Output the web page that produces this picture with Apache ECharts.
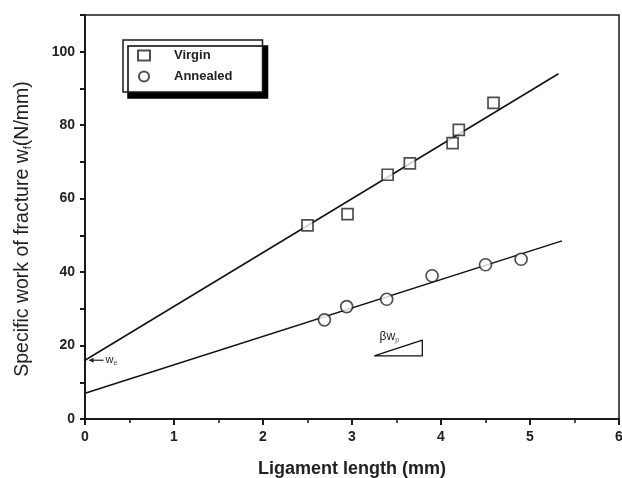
<!DOCTYPE html>
<html>
<head>
<meta charset="utf-8">
<script src="https://cdn.jsdelivr.net/npm/echarts@6/dist/echarts.min.js"></script>
<style>
html,body{margin:0;padding:0;background:#fff;}
#c{width:622px;height:478px;}
</style>
</head>
<body>
<div id="c"></div>
<script>
// ---- data ----
const virginX = [2.50, 2.95, 3.40, 3.65, 4.13, 4.20, 4.59];
const virginY = [52.7, 55.8, 66.5, 69.6, 75.1, 78.7, 86.1];
const annealedX = [2.69, 2.94, 3.39, 3.90, 4.50, 4.90];
const annealedY = [27.0, 30.6, 32.6, 39.0, 42.0, 43.5];
const virginFitX = [0, 5.32];
const virginFitY = [16.0, 94.0];
const annealedFitX = [0, 5.36];
const annealedFitY = [7.0, 48.5];
const slopeTriX = [3.25, 3.79, 3.79, 3.25];
const slopeTriY = [17.2, 17.2, 21.5, 17.2];
const xTicks = [0, 1, 2, 3, 4, 5, 6];
const yTicks = [0, 20, 40, 60, 80, 100];

const zip = (xs, ys) => xs.map((x, i) => [x, ys[i]]);

const chart = echarts.init(document.getElementById('c'), null, {renderer: 'canvas'});
const axisColor = '#1a1a1a';
const fontFam = '"Liberation Sans", Arial, sans-serif';

chart.setOption({
  animation: false,
  backgroundColor: '#fff',
  grid: {left: 85, right: 3, top: 15, bottom: 59, show: true, borderColor: axisColor, borderWidth: 1.5,
         backgroundColor: 'transparent', outerBoundsMode: 'none', containLabel: false},
  legend: {
    data: ['Virgin', 'Annealed'],
    orient: 'vertical',
    left: 123, top: 40,
    padding: [9, 30, 9, 14],
    itemGap: 8,
    itemWidth: 12, itemHeight: 10,
    backgroundColor: '#fff',
    borderColor: axisColor, borderWidth: 1.5, borderRadius: 0,
    shadowColor: '#000', shadowOffsetX: 5, shadowOffsetY: 6, shadowBlur: 0.01,
    textStyle: {fontFamily: fontFam, fontSize: 13, fontWeight: 'bold', color: '#222', padding: [0, 0, 0, 19]}
  },
  xAxis: {
    type: 'value', min: 0, max: 6, interval: 1,
    name: 'Ligament length (mm)', nameLocation: 'middle', nameGap: 41,
    nameTextStyle: {fontFamily: fontFam, fontSize: 18, fontWeight: 'bold', color: '#222'},
    axisLine: {lineStyle: {color: axisColor, width: 2}},
    axisTick: {length: 6, lineStyle: {color: axisColor, width: 2}},
    minorTick: {show: true, splitNumber: 2, length: 4, lineStyle: {color: axisColor, width: 1.5}},
    splitLine: {show: false},
    axisLabel: {fontFamily: fontFam, fontSize: 14, fontWeight: 'bold', color: '#222', margin: 11,
      formatter: v => xTicks.includes(v) ? String(v) : ''}
  },
  yAxis: {
    type: 'value', min: 0, max: 110, interval: 10,
    name: '{t|Specific work of fracture w}{s|f}{t|(N/mm)}', nameLocation: 'middle', nameGap: 52,
    nameTextStyle: {padding: [0, 24, 0, 0], rich: {
      t: {fontFamily: fontFam, fontSize: 19.5, color: '#222'},
      s: {fontFamily: fontFam, fontSize: 11, color: '#222', verticalAlign: 'bottom', padding: [10, 0, 0, 0]}
    }},
    axisLine: {lineStyle: {color: axisColor, width: 2}},
    axisTick: {length: 5, lineStyle: {color: axisColor, width: 2}},
    splitLine: {show: false},
    axisLabel: {fontFamily: fontFam, fontSize: 14, fontWeight: 'bold', color: '#222', margin: 10,
      formatter: v => yTicks.includes(v) ? String(v) : ''}
  },
  series: [
    {name: 'VirginFit', type: 'line', data: zip(virginFitX, virginFitY), showSymbol: false, symbol: 'none',
     lineStyle: {color: '#111', width: 1.5}, silent: true, z: 1},
    {name: 'AnnealedFit', type: 'line', data: zip(annealedFitX, annealedFitY), showSymbol: false, symbol: 'none',
     lineStyle: {color: '#111', width: 1.5}, silent: true, z: 1},
    {name: 'SlopeTri', type: 'line', data: zip(slopeTriX, slopeTriY), showSymbol: false, symbol: 'none',
     lineStyle: {color: '#111', width: 1.3}, silent: true, z: 1},
    {name: 'Virgin', type: 'scatter', symbol: 'rect', symbolSize: 11, data: zip(virginX, virginY),
     itemStyle: {color: '#fff', borderColor: '#222', borderWidth: 1.7}, z: 3},
    {name: 'Annealed', type: 'scatter', symbol: 'circle', symbolSize: 12, data: zip(annealedX, annealedY),
     itemStyle: {color: '#fff', borderColor: '#222', borderWidth: 1.7}, z: 3}
  ]
});

// annotations
const pWe = chart.convertToPixel({gridIndex: 0}, [0.04, 16]);
const pBeta = chart.convertToPixel({gridIndex: 0}, [3.31, 22.3]);
chart.setOption({
  graphic: [
    {type: 'line', shape: {x1: pWe[0] + 3, y1: pWe[1], x2: pWe[0] + 15, y2: pWe[1]}, style: {stroke: '#222', lineWidth: 1.2}},
    {type: 'polygon', shape: {points: [[pWe[0], pWe[1]], [pWe[0] + 5, pWe[1] - 2.5], [pWe[0] + 5, pWe[1] + 2.5]]}, style: {fill: '#222'}},
    {type: 'text', x: pWe[0] + 17, y: pWe[1], style: {text: '{a|w}{b|e}', verticalAlign: 'middle',
      rich: {a: {fontFamily: fontFam, fontSize: 11, fill: '#222'}, b: {fontFamily: fontFam, fontSize: 7, fill: '#555', padding: [5, 0, 0, 0]}}}},
    {type: 'text', x: pBeta[0], y: pBeta[1], style: {text: '{a|βw}{b|p}', verticalAlign: 'middle',
      rich: {a: {fontFamily: fontFam, fontSize: 12, fill: '#222'}, b: {fontFamily: fontFam, fontSize: 7, fill: '#555', padding: [6, 0, 0, 0]}}}}
  ]
});
</script>
</body>
</html>
